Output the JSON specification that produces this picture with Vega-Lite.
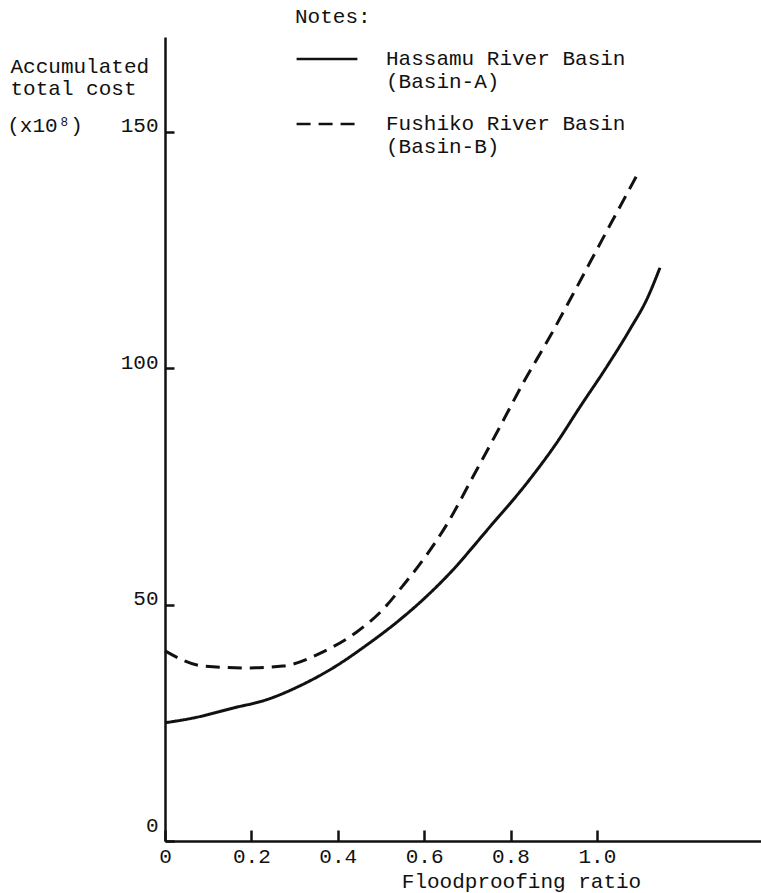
{
  "$schema": "https://vega.github.io/schema/vega-lite/v6.json",
  "width": 596,
  "height": 804,
  "autosize": "none",
  "padding": {"left": 165, "top": 37, "right": 0, "bottom": 52},
  "background": "white",
  "config": {
    "view": {"stroke": null},
    "font": "Liberation Mono",
    "axis": {
      "labelFont": "Liberation Mono",
      "titleFont": "Liberation Mono",
      "labelFontSize": 21,
      "titleFontSize": 21,
      "labelColor": "#111",
      "titleColor": "#111",
      "titleFontWeight": "normal",
      "domainColor": "#111",
      "domainWidth": 2.5,
      "tickColor": "#111",
      "tickWidth": 2.5,
      "grid": false
    },
    "legend": {
      "labelFont": "Liberation Mono",
      "titleFont": "Liberation Mono"
    }
  },
  "data": {
    "values": [
      {"ratio": 0.0, "cost": 25.0, "basin": "A"},
      {"ratio": 0.065, "cost": 26.0, "basin": "A"},
      {"ratio": 0.157, "cost": 28.1, "basin": "A"},
      {"ratio": 0.236, "cost": 29.9, "basin": "A"},
      {"ratio": 0.312, "cost": 32.8, "basin": "A"},
      {"ratio": 0.389, "cost": 36.6, "basin": "A"},
      {"ratio": 0.468, "cost": 41.5, "basin": "A"},
      {"ratio": 0.544, "cost": 46.8, "basin": "A"},
      {"ratio": 0.597, "cost": 51.0, "basin": "A"},
      {"ratio": 0.653, "cost": 56.0, "basin": "A"},
      {"ratio": 0.752, "cost": 66.4, "basin": "A"},
      {"ratio": 0.838, "cost": 75.7, "basin": "A"},
      {"ratio": 0.907, "cost": 84.2, "basin": "A"},
      {"ratio": 0.961, "cost": 91.8, "basin": "A"},
      {"ratio": 1.023, "cost": 100.3, "basin": "A"},
      {"ratio": 1.076, "cost": 108.1, "basin": "A"},
      {"ratio": 1.118, "cost": 115.0, "basin": "A"},
      {"ratio": 1.146, "cost": 121.2, "basin": "A"},
      {"ratio": 0.0, "cost": 40.2, "basin": "B"},
      {"ratio": 0.088, "cost": 37.0, "basin": "B"},
      {"ratio": 0.19, "cost": 36.6, "basin": "B"},
      {"ratio": 0.273, "cost": 37.0, "basin": "B"},
      {"ratio": 0.366, "cost": 40.0, "basin": "B"},
      {"ratio": 0.444, "cost": 44.2, "basin": "B"},
      {"ratio": 0.505, "cost": 49.0, "basin": "B"},
      {"ratio": 0.551, "cost": 54.0, "basin": "B"},
      {"ratio": 0.606, "cost": 60.5, "basin": "B"},
      {"ratio": 0.653, "cost": 67.0, "basin": "B"},
      {"ratio": 0.713, "cost": 77.0, "basin": "B"},
      {"ratio": 0.775, "cost": 87.5, "basin": "B"},
      {"ratio": 0.829, "cost": 96.8, "basin": "B"},
      {"ratio": 0.891, "cost": 106.6, "basin": "B"},
      {"ratio": 0.944, "cost": 115.5, "basin": "B"},
      {"ratio": 1.012, "cost": 127.1, "basin": "B"},
      {"ratio": 1.093, "cost": 140.8, "basin": "B"}
    ]
  },
  "mark": {"type": "line", "interpolate": "monotone", "strokeWidth": 3, "color": "#111"},
  "encoding": {
    "x": {
      "field": "ratio",
      "type": "quantitative",
      "scale": {"domain": [0, 1.38], "nice": false, "zero": false},
      "axis": {
        "orient": "bottom",
        "values": [0, 0.2, 0.4, 0.6, 0.8, 1.0],
        "labelExpr": "datum.value == 0 ? '0' : format(datum.value, '.1f')",
        "tickSize": -11,
        "labelPadding": 15,
        "labelBaseline": "top",
        "labelFlush": false,
        "labelOverlap": false,
        "title": "Floodproofing ratio",
        "titleAnchor": "start",
        "titleAlign": "center",
        "titleX": 356,
        "titleY": 40,
        "titleBaseline": "middle"
      }
    },
    "y": {
      "field": "cost",
      "type": "quantitative",
      "scale": {"domain": [0, 170], "nice": false},
      "axis": {
        "values": [0, 50, 100, 150],
        "tickSize": -9,
        "labelPadding": 16,
        "labelBaseline": "alphabetic",
        "labelOffset": {"condition": {"test": "datum.value == 0", "value": -10}, "value": 0},
        "labelExpr": "datum.value == 150 ? '(x10⁸)\u00a0\u00a0\u00a0150' : datum.label",
        "labelLimit": 300,
        "labelFlush": false,
        "labelOverlap": false,
        "title": ["Accumulated", "total cost"],
        "titleAngle": 0,
        "titleAlign": "left",
        "titleBaseline": "alphabetic",
        "titleX": -155,
        "titleY": 35,
        "titleLineHeight": 22
      }
    },
    "strokeDash": {
      "field": "basin",
      "type": "nominal",
      "scale": {"domain": ["A", "B"], "range": [[1, 0], [14, 8]]},
      "legend": {
        "title": "Notes:",
        "orient": "none",
        "legendX": 130,
        "legendY": -31,
        "padding": 0,
        "titleFontSize": 21,
        "titleFontWeight": "normal",
        "titleColor": "#111",
        "titleBaseline": "top",
        "titlePadding": 0,
        "labelFontSize": 21,
        "labelColor": "#111",
        "labelBaseline": "alphabetic",
        "labelLimit": 400,
        "labelOffset": 27,
        "labelExpr": "datum.value == 'A' ? ['Hassamu River Basin', '(Basin-A)'] : ['Fushiko River Basin', '(Basin-B)']",
        "symbolType": "stroke",
        "symbolSize": 3700,
        "symbolStrokeWidth": 2.5,
        "symbolStrokeColor": "#111",
        "rowPadding": -3,
        "encode": {
          "labels": {"update": {"dy": {"value": 6}}}
        }
      }
    }
  }
}
